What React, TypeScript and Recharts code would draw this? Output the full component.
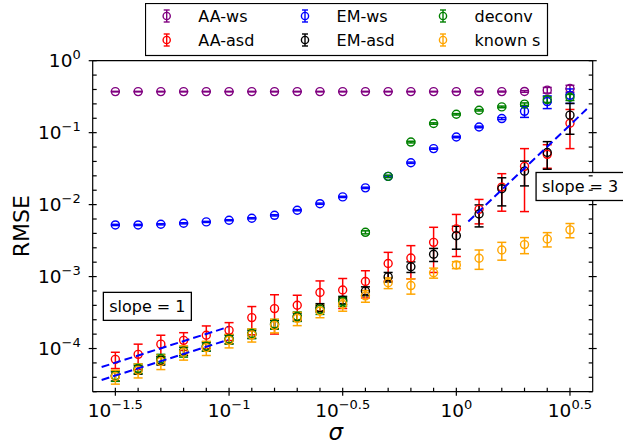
import React from "react";
import {
  ScatterChart,
  Scatter,
  XAxis,
  YAxis,
  ErrorBar,
  Legend,
  ReferenceDot,
} from "recharts";

// ─── Data ─────────────────────────────────────────────────────────────────────

const SIGMA = [
  0.0316, 0.0398, 0.0501, 0.0631, 0.0794, 0.1, 0.1259, 0.1585, 0.1995, 0.2512,
  0.3162, 0.3981, 0.5012, 0.631, 0.7943, 1, 1.2589, 1.5849, 1.9953, 2.5119, 3.1623,
];

const AA_WS = [
  0.372, 0.372, 0.372, 0.372, 0.372, 0.372, 0.372, 0.372, 0.372, 0.372, 0.372,
  0.372, 0.372, 0.372, 0.372, 0.372, 0.372, 0.372, 0.374, 0.39, 0.41,
];
const AA_WS_ERR = [
  0.003, 0.003, 0.003, 0.003, 0.003, 0.003, 0.003, 0.003, 0.003, 0.003, 0.003,
  0.003, 0.003, 0.003, 0.003, 0.003, 0.004, 0.005, 0.01, 0.035, 0.045,
];

const AA_ASD = [
  7.07e-5, 8.3e-5, 1.15e-4, 1.3e-4, 1.53e-4, 1.79e-4, 2.69e-4, 3.59e-4, 4.0e-4,
  6.0e-4, 6.5e-4, 8.55e-4, 1.52e-3, 1.81e-3, 2.99e-3, 4.6e-3, 8.6e-3, 1.75e-2,
  3.4e-2, 5.0e-2, 0.135,
];
const AA_ASD_ERR = [
  1.8e-5, 3.2e-5, 3.8e-5, 3.6e-5, 5.3e-5, 5e-5, 1.14e-4, 2e-4, 1.5e-4, 2.7e-4,
  2.9e-4, 3.5e-4, 6.5e-4, 8.8e-4, 1.85e-3, 2.7e-3, 3.2e-3, 9.4e-3, 2.6e-2, 1.8e-2,
  0.075,
];

const EM_WS = [
  5.22e-3, 5.22e-3, 5.33e-3, 5.5e-3, 5.75e-3, 6.07e-3, 6.46e-3, 7.1e-3, 8.36e-3,
  1.03e-2, 1.28e-2, 1.71e-2, 2.47e-2, 3.82e-2, 6.0e-2, 8.7e-2, 0.12, 0.157,
  0.198, 0.27, 0.33,
];
const EM_WS_ERR = [
  1e-4, 1e-4, 1e-4, 1e-4, 1e-4, 1e-4, 1.2e-4, 1.4e-4, 1.6e-4, 2e-4, 2.5e-4,
  3.5e-4, 5e-4, 8e-4, 1.2e-3, 2e-3, 3e-3, 5e-3, 0.035, 0.054, 0.075,
];

const EM_ASD = [
  4.13e-5, 5.1e-5, 6.8e-5, 9.2e-5, 1.06e-4, 1.34e-4, 1.58e-4, 2.17e-4, 2.75e-4,
  3.7e-4, 4.7e-4, 6.3e-4, 9.9e-4, 1.37e-3, 2.04e-3, 3.7e-3, 7.4e-3, 1.66e-2,
  2.92e-2, 5.3e-2, 0.175,
];
const EM_ASD_ERR = [
  6e-6, 7e-6, 9e-6, 1.2e-5, 1.4e-5, 1.8e-5, 2e-5, 3e-5, 3.5e-5, 5e-5, 6e-5, 9e-5,
  1.5e-4, 2.3e-4, 4.2e-4, 1.3e-3, 2.5e-3, 7e-3, 1.1e-2, 2.2e-2, 0.08,
];

const DECONV = [
  4.2e-5, 5.3e-5, 7.2e-5, 9.0e-5, 1.08e-4, 1.36e-4, 1.62e-4, 2.2e-4, 2.8e-4,
  3.5e-4, 4.5e-4, 4.12e-3, 2.47e-2, 7.4e-2, 0.134, 0.18, 0.205, 0.228, 0.249,
  0.288, 0.31,
];
const DECONV_ERR = [
  7e-6, 8e-6, 1.1e-5, 1.4e-5, 1.6e-5, 2e-5, 2.4e-5, 3.3e-5, 4.2e-5, 5.2e-5,
  6.5e-5, 2e-4, 1e-3, 2e-3, 3e-3, 4e-3, 5e-3, 6e-3, 1e-2, 2.5e-2, 3e-2,
];

const KNOWN_S = [
  4.1e-5, 5.0e-5, 6.6e-5, 8.9e-5, 1.03e-4, 1.3e-4, 1.55e-4, 2.1e-4, 2.63e-4,
  3.33e-4, 4.1e-4, 5.4e-4, 8.2e-4, 7.5e-4, 1.13e-3, 1.45e-3, 1.8e-3, 2.34e-3,
  2.78e-3, 3.33e-3, 4.46e-3,
];
const KNOWN_S_ERR = [
  9e-6, 1.1e-5, 1.5e-5, 2e-5, 2.3e-5, 2.8e-5, 3.2e-5, 4.5e-5, 5.5e-5, 6.5e-5,
  8e-5, 1e-4, 1.4e-4, 1.8e-4, 1.8e-4, 1.6e-4, 5.4e-4, 6.5e-4, 7e-4, 7.5e-4, 1e-3,
];

// reference slopes (end points)
const SLOPE1_UPPER = [
  { x: 0.0275, y: 5.53e-5 },
  { x: 0.099, y: 1.99e-4 },
];
const SLOPE1_LOWER = [
  { x: 0.0275, y: 3.66e-5 },
  { x: 0.099, y: 1.32e-4 },
];
const SLOPE3 = [
  { x: 1.129, y: 5.81e-3 },
  { x: 3.75, y: 0.213 },
];

const X_MAJOR = [-1.5, -1, -0.5, 0, 0.5];
const Y_MAJOR = [0, -1, -2, -3, -4];

// ─── Styling ──────────────────────────────────────────────────────────────────

const FONT = "DejaVu Sans";
const X_DOMAIN = [Math.pow(10, -1.6), Math.pow(10, 0.6)];
const Y_DOMAIN = [Math.pow(10, -4.6), 1];
const X_TICKS = SIGMA;
const Y_TICKS = Array.from({ length: 24 }, (_, j) => Math.pow(10, -0.2 * j));

const SERIES = [
  { name: "AA-ws", color: "#800080", values: AA_WS, errors: AA_WS_ERR },
  { name: "AA-asd", color: "#ff0000", values: AA_ASD, errors: AA_ASD_ERR },
  { name: "EM-ws", color: "#0000ff", values: EM_WS, errors: EM_WS_ERR },
  { name: "EM-asd", color: "#000000", values: EM_ASD, errors: EM_ASD_ERR },
  { name: "deconv", color: "#008000", values: DECONV, errors: DECONV_ERR },
  { name: "known s", color: "#ffa500", values: KNOWN_S, errors: KNOWN_S_ERR },
];

const fmtExp = (e: number) => (e < 0 ? "\u2212" + Math.abs(e) : String(e));
const isMajor = (v: number, step: number) => {
  const e = Math.log10(v) / step;
  return Math.abs(e - Math.round(e)) < 1e-3;
};

// ─── Ticks ────────────────────────────────────────────────────────────────────

function XTick({ x, y, payload }: any) {
  const major = isMajor(payload.value, 0.5);
  const e = Math.round(Math.log10(payload.value) * 10) / 10;
  return (
    <g>
      <line x1={x} x2={x} y1={y - 4} y2={major ? y + 4 : y} stroke="#000" strokeWidth={1.2} />
      {major && X_MAJOR.includes(e) && (
        <text x={x} y={y + 25} textAnchor="middle" fontFamily={FONT} fontSize={18.5} fill="#000">
          10
          <tspan dy={-8} fontSize={13}>{fmtExp(e)}</tspan>
        </text>
      )}
    </g>
  );
}

function YTick({ x, y, payload }: any) {
  const major = isMajor(payload.value, 1);
  const e = Math.round(Math.log10(payload.value));
  return (
    <g>
      <line x1={major ? x - 4 : x} x2={x + 4} y1={y} y2={y} stroke="#000" strokeWidth={1.2} />
      {major && Y_MAJOR.includes(e) && (
        <text x={x - 12} y={y + 6.5} textAnchor="end" fontFamily={FONT} fontSize={18.5} fill="#000">
          10
          <tspan dy={-8} fontSize={13}>{fmtExp(e)}</tspan>
        </text>
      )}
    </g>
  );
}

function RightTick({ x, y, payload }: any) {
  const major = isMajor(payload.value, 1);
  return (
    <line x1={x - 4} x2={major ? x + 4 : x} y1={y} y2={y} stroke="#000" strokeWidth={1.2} />
  );
}

const emptyTick = () => <g />;

// ─── Markers, legend, annotations ────────────────────────────────────────────

const ring = (color: string) => (props: any) =>
  <circle cx={props.cx} cy={props.cy} r={4} fill="none" stroke={color} strokeWidth={1.4} />;

function renderLegend() {
  const cols = [21.7, 160, 298];
  const rows = [13, 37];
  return (
    <svg width={404} height={54} style={{ display: "block" }}>
      <rect x={0.5} y={0.5} width={402} height={52} fill="#fff" stroke="#000" strokeWidth={1.2} />
      {SERIES.map((s, i) => {
        const cx = cols[Math.floor(i / 2)];
        const cy = rows[i % 2];
        return (
          <g key={s.name}>
            <line x1={cx} x2={cx} y1={cy - 6} y2={cy + 6} stroke={s.color} strokeWidth={1.4} />
            <line x1={cx - 3} x2={cx + 3} y1={cy - 6} y2={cy - 6} stroke={s.color} strokeWidth={1.4} />
            <line x1={cx - 3} x2={cx + 3} y1={cy + 6} y2={cy + 6} stroke={s.color} strokeWidth={1.4} />
            <circle cx={cx} cy={cy} r={3.6} fill="none" stroke={s.color} strokeWidth={1.4} />
            <text x={cx + 31.6} y={cy + 5.7} fontFamily={FONT} fontSize={16} fill="#000">
              {s.name}
            </text>
          </g>
        );
      })}
    </svg>
  );
}

const slopeBox = (text: string) => (props: any) => (
  <g>
    <rect x={props.cx - 44} y={props.cy - 14} width={88} height={28} fill="#fff" stroke="#000" strokeWidth={1.3} />
    <text x={props.cx} y={props.cy + 6} textAnchor="middle" fontFamily={FONT} fontSize={16} fill="#000">
      {text}
    </text>
  </g>
);

const dash = { stroke: "#0000ff", strokeWidth: 2, strokeDasharray: "8 4" };
const noShape = () => <g />;

// ─── Main ─────────────────────────────────────────────────────────────────────

export default function App() {
  return (
    <div style={{ position: "absolute", left: 0, top: 0, background: "#fff" }}>
      <ScatterChart
        width={623}
        height={447}
        margin={{ top: 59.7, right: 29.3, bottom: 54.3, left: 91.7 }}
      >
        <XAxis
          type="number"
          dataKey="x"
          scale="log"
          domain={X_DOMAIN}
          allowDataOverflow
          ticks={X_TICKS}
          interval={0}
          tick={<XTick />}
          tickLine={false}
          tickSize={0}
          tickMargin={0}
          height={1}
          axisLine={{ stroke: "#000", strokeWidth: 1.2 }}
          label={{
            content: ({ viewBox }: any) => (
              <text
                x={viewBox.x + viewBox.width / 2 - 7}
                y={viewBox.y + 48}
                textAnchor="middle"
                fontFamily={FONT}
                fontStyle="italic"
                fontSize={23}
                fill="#000"
              >
                σ
              </text>
            ),
          }}
        />
        <XAxis
          xAxisId="top"
          orientation="top"
          type="number"
          dataKey="x"
          scale="log"
          domain={X_DOMAIN}
          allowDataOverflow
          ticks={X_TICKS}
          tick={emptyTick}
          tickLine={false}
          tickSize={0}
          height={1}
          axisLine={{ stroke: "#000", strokeWidth: 1.2 }}
        />
        <YAxis
          type="number"
          dataKey="y"
          scale="log"
          domain={Y_DOMAIN}
          allowDataOverflow
          ticks={Y_TICKS}
          interval={0}
          tick={<YTick />}
          tickLine={false}
          tickSize={0}
          tickMargin={0}
          width={1}
          axisLine={{ stroke: "#000", strokeWidth: 1.2 }}
          label={{
            content: ({ viewBox }: any) => {
              const cy = viewBox.y + viewBox.height / 2;
              return (
                <text
                  x={22}
                  y={cy}
                  transform={`rotate(-90 22 ${cy})`}
                  textAnchor="middle"
                  dominantBaseline="central"
                  fontFamily={FONT}
                  fontSize={22}
                  fill="#000"
                >
                  RMSE
                </text>
              );
            },
          }}
        />
        <YAxis
          yAxisId="right"
          orientation="right"
          type="number"
          dataKey="y"
          scale="log"
          domain={Y_DOMAIN}
          allowDataOverflow
          ticks={Y_TICKS}
          interval={0}
          tick={<RightTick />}
          tickLine={false}
          tickSize={0}
          tickMargin={0}
          width={1}
          axisLine={{ stroke: "#000", strokeWidth: 1.2 }}
        />

        {SERIES.map((s) => (
          <Scatter
            key={s.name}
            name={s.name}
            data={SIGMA.map((x, i) => ({ x, y: s.values[i], err: s.errors[i] }))}
            shape={ring(s.color)}
            isAnimationActive={false}
          >
            <ErrorBar
              dataKey="err"
              direction="y"
              width={4.5}
              stroke={s.color}
              strokeWidth={1.5}
              isAnimationActive={false}
            />
          </Scatter>
        ))}

        <Scatter data={SLOPE1_UPPER} line={dash} shape={noShape} legendType="none" isAnimationActive={false} />
        <Scatter data={SLOPE1_LOWER} line={dash} shape={noShape} legendType="none" isAnimationActive={false} />
        <Scatter data={SLOPE3} line={dash} shape={noShape} legendType="none" isAnimationActive={false} />

        <ReferenceDot x={0.0437} y={3.855e-4} r={0} ifOverflow="visible" shape={slopeBox("slope = 1")} />
        <ReferenceDot x={3.503} y={1.786e-2} r={0} ifOverflow="visible" shape={slopeBox("slope = 3")} />

        <Legend
          layout="horizontal"
          verticalAlign="middle"
          align="center"
          wrapperStyle={{ position: "absolute", left: 145, top: 2.5, width: 404, height: 54 }}
          content={renderLegend}
        />
      </ScatterChart>
    </div>
  );
}
